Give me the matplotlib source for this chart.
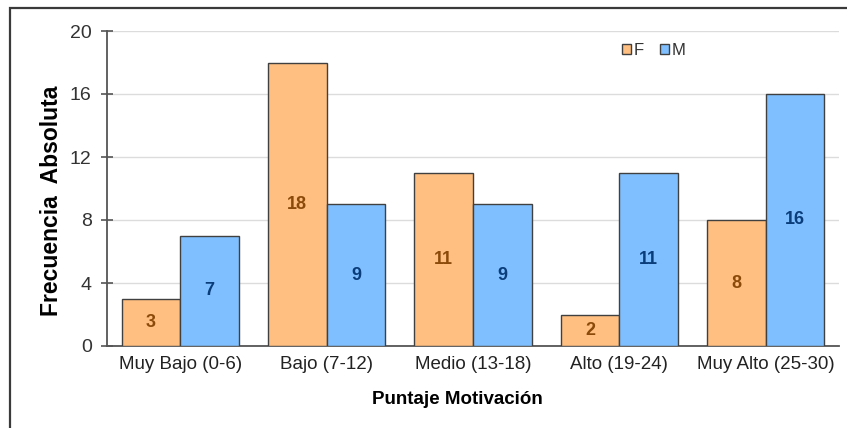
import matplotlib
matplotlib.use("Agg")
import matplotlib.pyplot as plt
from matplotlib.patches import Rectangle
import numpy as np

plt.rcParams['font.family'] = ['Liberation Sans', 'DejaVu Sans']

categories = ["Muy Bajo (0-6)", "Bajo (7-12)", "Medio (13-18)", "Alto (19-24)", "Muy Alto (25-30)"]
f_values = [3, 18, 11, 2, 8]
m_values = [7, 9, 9, 11, 16]
y_ticks = [0, 4, 8, 12, 16, 20]

fig = plt.figure(figsize=(8.47, 4.28), dpi=100)
ax = fig.add_axes([107/847, 1 - 346/428, (839 - 107)/847, (346 - 31)/428])

# outer frame line (top and left)
fig.add_artist(Rectangle((10/847, -0.05), 1.2, 1 - 8.5/428 + 0.05, transform=fig.transFigure,
                         fill=False, edgecolor='#3a3a3a', linewidth=1.6, clip_on=False))

x = np.arange(len(categories))
w = 0.4
f_color = '#FFBF80'
m_color = '#80BFFF'
edge = '#404040'

ax.bar(x - w/2, f_values, w, color=f_color, edgecolor=edge, linewidth=1.0, label='F', zorder=3)
ax.bar(x + w/2, m_values, w, color=m_color, edgecolor=edge, linewidth=1.0, label='M', zorder=3)

for xi, v in zip(x - w/2, f_values):
    ax.text(xi, v/2, str(v), ha='center', va='center', fontsize=13, fontweight='bold',
            color='#8C4A0A', zorder=4)
for xi, v in zip(x + w/2, m_values):
    ax.text(xi, v/2, str(v), ha='center', va='center', fontsize=13, fontweight='bold',
            color='#0A3D7A', zorder=4)

ax.set_xlim(-0.5, len(categories) - 0.5)
ax.set_ylim(0, 20)
ax.set_yticks(y_ticks)
ax.set_xticks(x)
ax.set_xticklabels(categories, fontsize=13.5, color='#222222')
ax.tick_params(axis='y', direction='inout', length=8, width=1.2, color='#555555',
               labelsize=14, labelcolor='#333333', pad=7)
ax.tick_params(axis='x', length=0, pad=7)
ax.grid(axis='y', color='#dcdcdc', linewidth=1.0, zorder=0)

for s in ['top', 'right']:
    ax.spines[s].set_visible(False)
ax.spines['left'].set_color('#555555')
ax.spines['left'].set_linewidth(1.3)
ax.spines['bottom'].set_color('#555555')
ax.spines['bottom'].set_linewidth(1.3)

ax.set_xlabel('Puntaje Motivación', fontsize=13.5, fontweight='bold')
ax.xaxis.set_label_coords(0.478, -0.142)
ax.set_ylabel('Frecuencia  Absoluta', fontsize=16.5, fontweight='bold')
ax.yaxis.set_label_coords(-0.06, 0.46)

ax.legend(loc='center left', bbox_to_anchor=(0.703, 0.937), ncol=2, frameon=False,
          fontsize=12, handlelength=0.55, handleheight=0.55, handletextpad=0.15,
          columnspacing=1.0, borderpad=0, borderaxespad=0, labelcolor='#333333')

fig.savefig('out.png', dpi=100)
